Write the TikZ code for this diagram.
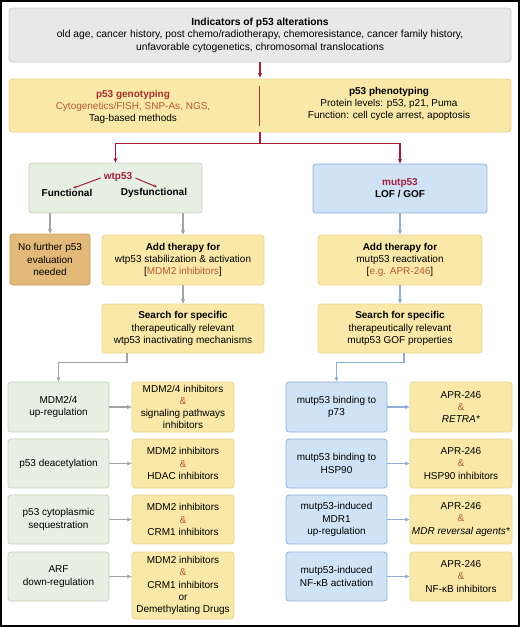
\documentclass[tikz,border=0pt]{standalone}
\usepackage{fontspec}
\setmainfont{Liberation Sans}
\usetikzlibrary{arrows.meta}
\definecolor{gfill}{HTML}{E8E8E8}
\definecolor{gdraw}{HTML}{CFCFCF}
\definecolor{yfill}{HTML}{F9E8A8}
\definecolor{ydraw}{HTML}{EBD590}
\definecolor{grfill}{HTML}{E6EFE1}
\definecolor{grdraw}{HTML}{C4D2BD}
\definecolor{bfill}{HTML}{CFE2F6}
\definecolor{bdraw}{HTML}{8EB1DA}
\definecolor{ofill}{HTML}{E3B979}
\definecolor{odraw}{HTML}{C99A5B}
\definecolor{ptred}{HTML}{A3203A}
\definecolor{ptdred}{HTML}{A3302C}
\definecolor{ptbrown}{HTML}{B35A35}
\definecolor{arrgray}{HTML}{A3A3A3}
\definecolor{arrblue}{HTML}{8EAED8}
\newcommand\fs{\fontsize{10pt}{12.2pt}\selectfont}
\newcommand\amp{\textcolor{ptbrown}{\&}}
\tikzset{
  basebox/.style={draw, rounded corners=3pt, align=center, inner sep=0pt, font=\fs, line width=0.8pt},
  graybox/.style={basebox, fill=gfill, draw=gdraw},
  ybox/.style={basebox, fill=yfill, draw=ydraw},
  grbox/.style={basebox, fill=grfill, draw=grdraw},
  bbox/.style={basebox, fill=bfill, draw=bdraw},
  obox/.style={basebox, fill=ofill, draw=odraw},
  txt/.style={align=center, inner sep=0pt, font=\fs},
  tip/.style={-{Stealth[length=8pt,width=7pt,inset=5.5pt]}},
  redarr/.style={tip, draw=ptred, line width=1.3pt},
  redsmall/.style={-{Stealth[length=6pt,width=5pt,inset=4pt]}, draw=ptred, line width=1pt},
  grayarr/.style={tip, draw=arrgray, line width=1.3pt},
  bluearr/.style={tip, draw=arrblue, line width=1.3pt},
}
\begin{document}
\begin{tikzpicture}[x=1pt,y=-1pt]
\useasboundingbox (0,0) rectangle (520,627);
\draw[line width=2pt] (1,1) rectangle (519,626);

% top
\node[graybox, minimum width=502pt, minimum height=54pt, font=\fontsize{10.3pt}{12.5pt}\selectfont] (top) at (260,35)
  {\textbf{Indicators of p53 alterations}\\old age, cancer history, post chemo/radiotherapy, chemoresistance, cancer family history,\\unfavorable cytogenetics, chromosomal translocations};

% genotyping / phenotyping
\node[ybox, minimum width=502pt, minimum height=53pt] (geno) at (260,105.5) {};
\node[txt] (genoL) at (133,107) {\textcolor{ptdred}{\textbf{p53 genotyping}}\\\textcolor{ptbrown}{Cytogenetics/FISH, SNP-As, NGS,}\\Tag-based methods};
\node[txt] (genoR) at (389,104) {\textbf{p53 phenotyping}\\Protein levels: p53, p21, Puma\\Function: cell cycle arrest, apoptosis};
\coordinate (dtop) at (259,86);
\coordinate (dbot) at (259,126);
\draw[ptdred, line width=0.9pt] (dtop) -- (dbot);

% wt / mut
\node[grbox, minimum width=173pt, minimum height=50pt] (wt) at (115.5,188) {};
\node[txt, text=ptred, font=\fs\bfseries] (wtl) at (118,177) {wtp53};
\node[txt, font=\fs\bfseries] (fn) at (67,193) {Functional};
\node[txt, font=\fs\bfseries] (dys) at (154,193) {Dysfunctional};
\node[bbox, minimum width=174pt, minimum height=49pt, font=\fs\bfseries] (mut) at (400,188.5) {\textcolor{ptred}{mutp53}\\LOF / GOF};

\draw[redarr, shorten >=1pt] (top.south) -- (geno.north);
\draw[redarr] (geno.south) -- ++(0,11) -| (wt.north);
\draw[redarr] (geno.south) -- ++(0,11) -| (mut.north);
\draw[redsmall] ([shift={(-3,1)}]wtl.west) -- ([shift={(6,-1)}]fn.north);
\draw[redsmall] ([shift={(3,1)}]wtl.east) -- ([shift={(3,-1)}]dys.north);

% second level
\node[obox, minimum width=80pt, minimum height=51pt] (nof) at (50,259.5) {No further p53\\evaluation\\needed};
\node[ybox, minimum width=162pt, minimum height=50pt] (addL) at (183,260) {\textbf{Add therapy for}\\wtp53 stabilization \& activation\\{[}\textcolor{ptbrown}{MDM2 inhibitors}{]}};
\node[ybox, minimum width=164pt, minimum height=50pt] (addR) at (400,260) {\textbf{Add therapy for}\\mutp53 reactivation\\{[}\textcolor{ptbrown}{e.g. APR-246}{]}};
\node[ybox, minimum width=162pt, minimum height=49pt] (searchL) at (183,328.5) {\textbf{Search for specific}\\therapeutically relevant\\wtp53 inactivating mechanisms};
\node[ybox, minimum width=164pt, minimum height=49pt] (searchR) at (400,328.5) {\textbf{Search for specific}\\therapeutically relevant\\mutp53 GOF properties};

\draw[grayarr] (wt.south -| nof.north) -- (nof.north);
\draw[grayarr] (wt.south -| addL.north) -- (addL.north);
\draw[bluearr] (mut.south) -- (addR.north);
\draw[grayarr] (addL.south) -- (searchL.north);
\draw[bluearr] (addR.south) -- (searchR.north);

% left rows
\node[grbox, minimum width=101pt, minimum height=50pt] (g1) at (58.5,407) {MDM2/4\\up-regulation};
\node[grbox, minimum width=101pt, minimum height=49pt] (g2) at (58.5,463.5) {p53 deacetylation};
\node[grbox, minimum width=101pt, minimum height=49pt] (g3) at (58.5,519.5) {p53 cytoplasmic\\sequestration};
\node[grbox, minimum width=101pt, minimum height=49pt] (g4) at (58.5,576.5) {ARF\\down-regulation};
\node[ybox, minimum width=102pt, minimum height=50pt] (y1) at (183,407) {MDM2/4 inhibitors\\\amp\\signaling pathways\\inhibitors};
\node[ybox, minimum width=102pt, minimum height=49pt] (y2) at (183,463.5) {MDM2 inhibitors\\\amp\\HDAC inhibitors};
\node[ybox, minimum width=102pt, minimum height=49pt] (y3) at (183,519.5) {MDM2 inhibitors\\\amp\\CRM1 inhibitors};
\node[ybox, minimum width=102pt, minimum height=67pt] (y4) at (183,585.5) {MDM2 inhibitors\\\amp\\CRM1 inhibitors\\or\\Demethylating Drugs};

% right rows
\node[bbox, minimum width=101pt, minimum height=50pt] (b1) at (336.5,407) {mutp53 binding to\\p73};
\node[bbox, minimum width=101pt, minimum height=49pt] (b2) at (336.5,463.5) {mutp53 binding to\\HSP90};
\node[bbox, minimum width=101pt, minimum height=49pt] (b3) at (336.5,519.5) {mutp53-induced\\MDR1\\up-regulation};
\node[bbox, minimum width=101pt, minimum height=49pt] (b4) at (336.5,576.5) {mutp53-induced\\NF-κB activation};
\node[ybox, minimum width=102pt, minimum height=50pt] (r1) at (461,407) {APR-246\\\amp\\\textit{RETRA*}};
\node[ybox, minimum width=102pt, minimum height=49pt] (r2) at (461,463.5) {APR-246\\\amp\\HSP90 inhibitors};
\node[ybox, minimum width=102pt, minimum height=49pt] (r3) at (461,519.5) {APR-246\\\amp\\\textit{MDR reversal agents*}};
\node[ybox, minimum width=102pt, minimum height=49pt] (r4) at (461,576.5) {APR-246\\\amp\\NF-κB inhibitors};

\draw[grayarr] ([xshift=-56pt]searchL.south) -- ++(0,9) -| (g1.north);
\draw[bluearr] ([xshift=4pt]searchR.south) -- ++(0,9) -| (b1.north);

\foreach \a/\b in {g1/y1,g2/y2,g3/y3}{\draw[grayarr] (\a.east) -- (\b.west);}
\draw[grayarr] (g4.east) -- (g4.east -| y4.west);
\foreach \a/\b in {b1/r1,b2/r2,b3/r3,b4/r4}{\draw[bluearr] (\a.east) -- (\b.west);}
\end{tikzpicture}
\end{document}
